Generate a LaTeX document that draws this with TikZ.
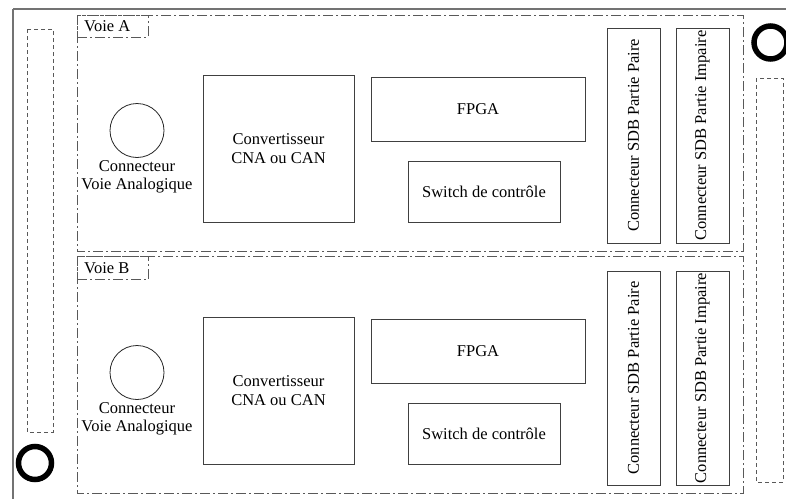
\documentclass[tikz,border=0pt]{standalone}
\usepackage{fontspec}
\setmainfont{Liberation Serif}
\begin{document}
\begin{tikzpicture}[x=1pt,y=-1pt,
  every node/.style={font=\fontsize{16.5}{18.5}\selectfont, text=black},
  box/.style={draw=black!75, line width=0.8pt, inner sep=0pt, align=center},
  voie/.style={draw=black!65, line width=0.9pt, dash pattern=on 10pt off 3pt on 2pt off 3pt},
  side/.style={draw=black!65, line width=0.9pt, dash pattern=on 4pt off 3pt},
  ring/.style={draw=black, line width=5.5pt},
  lbl/.style={align=center, inner sep=0pt}]
\useasboundingbox (0,0) rectangle (786,498);
% outer frame
\draw[black!55, line width=1.4pt] (13,9) -- (800,9) (13,9) -- (13,510);
% side rectangles
\draw[side] (27,29) rectangle (53,432);
\draw[side] (756,78) rectangle (783,482);
% thick rings
\draw[ring] (770.5,42.5) circle (16.5);
\draw[ring] (35,463) circle (16.5);
% ---- Voie A
\draw[voie] (77,15) rectangle (743,251);
\node[voie, draw, minimum width=71, minimum height=22, inner sep=0pt] (labA) at (112.5,26) {};
\node[anchor=west, inner sep=0pt] (tlabA) at (84,26) {Voie A};
\node[draw=black!85, line width=0.8pt, circle, minimum size=54, inner sep=0pt] (circA) at (137,130.5) {};
\node[lbl] (ctxtA) at (137,177) {Connecteur\\Voie Analogique};
\node[box, minimum width=151, minimum height=147] (cnaA) at (278.5,148.5) {Convertisseur\\CNA ou CAN};
\node[box, minimum width=214, minimum height=64] (fpgaA) at (478,109) {FPGA};
\node[box, minimum width=152, minimum height=61] (swA) at (484,191.5) {Switch de contrôle};
\node[box, minimum width=53, minimum height=215] (sdbpA) at (633.5,135.5) {\rotatebox{90}{Connecteur SDB Partie Paire}};
\node[box, minimum width=53, minimum height=215] (sdbiA) at (702.5,135.5) {\rotatebox{90}{Connecteur SDB Partie Impaire}};
% ---- Voie B
\draw[voie] (77,256) rectangle (743,493);
\node[voie, draw, minimum width=71, minimum height=23, inner sep=0pt] (labB) at (112.5,268) {};
\node[anchor=west, inner sep=0pt] (tlabB) at (84,268) {Voie B};
\node[draw=black!85, line width=0.8pt, circle, minimum size=54, inner sep=0pt] (circB) at (137,372.5) {};
\node[lbl] (ctxtB) at (137,419) {Connecteur\\Voie Analogique};
\node[box, minimum width=151, minimum height=147] (cnaB) at (278.5,390.5) {Convertisseur\\CNA ou CAN};
\node[box, minimum width=214, minimum height=64] (fpgaB) at (478,351) {FPGA};
\node[box, minimum width=152, minimum height=61] (swB) at (484,433.5) {Switch de contrôle};
\node[box, minimum width=53, minimum height=214] (sdbpB) at (633.5,378) {\rotatebox{90}{Connecteur SDB Partie Paire}};
\node[box, minimum width=53, minimum height=214] (sdbiB) at (702.5,378) {\rotatebox{90}{Connecteur SDB Partie Impaire}};
\end{tikzpicture}
\end{document}
